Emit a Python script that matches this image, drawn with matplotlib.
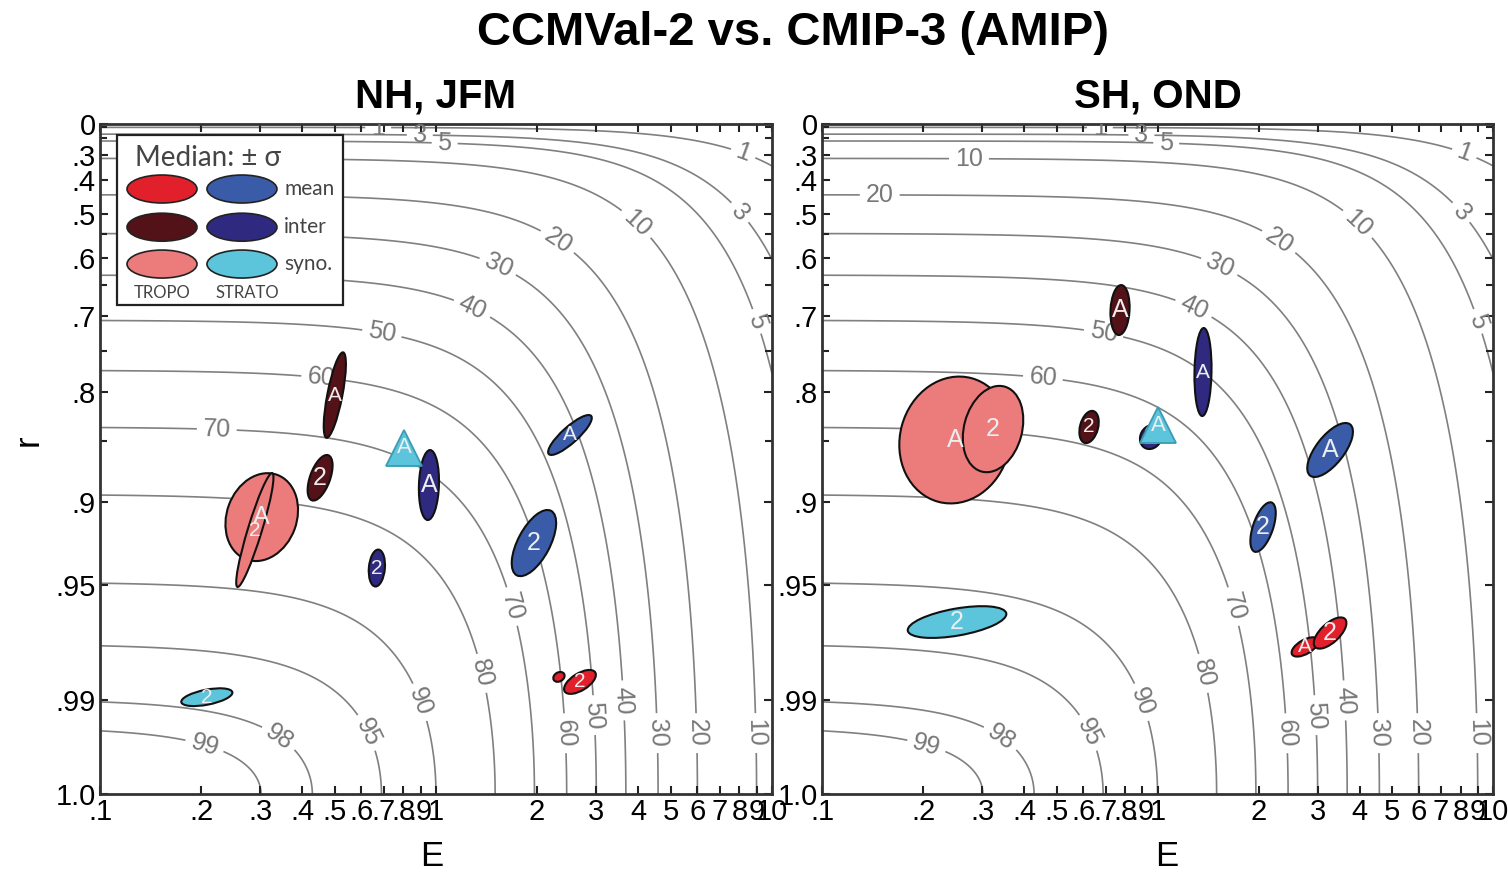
import numpy as np
import matplotlib as mpl
mpl.use('Agg')
import matplotlib.pyplot as plt
from matplotlib.patches import Ellipse, Rectangle
from matplotlib.transforms import ScaledTranslation

plt.rcParams['font.family'] = ['Liberation Sans', 'DejaVu Sans']

# contour levels of the skill score (percent)
levels = [1, 3, 5, 10, 20, 30, 40, 50, 60, 70, 80, 90, 95, 98, 99]

e_ticks = [.1, .2, .3, .4, .5, .6, .7, .8, .9, 1, 2, 3, 4, 5, 6, 7, 8, 9, 10]
e_ticklabels = ['.1', '.2', '.3', '.4', '.5', '.6', '.7', '.8', '.9', '1',
                '2', '3', '4', '5', '6', '7', '8', '9', '10']
r_ticks = [0, .3, .4, .5, .6, .7, .8, .9, .95, .99, 1.0]
r_ticklabels = ['0', '.3', '.4', '.5', '.6', '.7', '.8', '.9', '.95', '.99', '1.0']
r_minor = [.1, .2, .55, .65, .75, .85]

# ellipses (drawing order), NH JFM
nh_kind = ['tropo_syno', 'tropo_syno', 'tropo_inter', 'tropo_inter', 'strat_inter', 'strat_inter',
           'strat_mean', 'strat_mean', 'tropo_mean', 'tropo_mean', 'strat_syno']
nh_label = ['A', '2', 'A', '2', 'A', '2', 'A', '2', '', '2', '2']
nh_E = [0.303, 0.289, 0.50, 0.452, 0.953, 0.667, 2.505, 1.957, 2.323, 2.683, 0.208]
nh_r = [0.9106, 0.9191, 0.8034, 0.8816, 0.8873, 0.9414, 0.8443, 0.9272, 0.9846, 0.9859, 0.9895]
nh_tri_E = [0.803]
nh_tri_r = [0.8563]

# ellipses (drawing order), SH OND
sh_kind = ['tropo_syno', 'tropo_syno', 'tropo_inter', 'tropo_inter', 'strat_inter', 'strat_inter',
           'strat_mean', 'strat_mean', 'tropo_mean', 'tropo_mean', 'strat_syno']
sh_label = ['A', '2', 'A', '2', 'A', '2', 'A', '2', 'A', '2', '2']
sh_E = [0.249, 0.3234, 0.773, 0.625, 1.366, 0.956, 3.268, 2.063, 2.752, 3.268, 0.2526]
sh_r = [0.849, 0.8386, 0.6915, 0.8366, 0.7767, 0.8462, 0.8581, 0.9172, 0.9756, 0.9707, 0.9665]
sh_tri_E = [1.0035]
sh_tri_r = [0.8347]

# ellipse shapes in pixels: major, minor, angle (deg)
nh_w = [90, 119, 87, 48, 70, 37, 57, 73, 12, 36, 52]
nh_h = [70, 14, 15, 20, 20, 16, 16, 32, 9, 17, 15]
nh_ang = [70, 73, 79, 70, 88, 85, 42, 62, 30, 32, 11]
sh_w = [128, 88, 50, 33, 88, 25, 65, 52, 30, 41, 100]
sh_h = [110, 58, 19, 18, 17, 21, 28, 20, 14, 19, 27]
sh_ang = [75, 75, 87, 75, 89, 60, 52, 71, 30, 43, 10]

colors = {'tropo_mean': '#e2202c', 'tropo_inter': '#521217', 'tropo_syno': '#ec7b7b',
          'strat_mean': '#3a5ca8', 'strat_inter': '#2f2a80', 'strat_syno': '#5cc5dc'}

# contour label positions (axes fraction)
label_common = [(0.414, 0.995), (0.960, 0.964), (0.476, 0.985), (0.957, 0.872), (0.513, 0.975),
                (0.982, 0.707), (0.804, 0.857), (0.685, 0.831),
                (0.595, 0.794), (0.558, 0.734), (0.421, 0.696), (0.330, 0.630),
                (0.621, 0.282), (0.576, 0.182), (0.484, 0.140), (0.405, 0.0955), (0.271, 0.091),
                (0.158, 0.0806), (0.698, 0.091), (0.740, 0.118), (0.784, 0.140), (0.833, 0.091),
                (0.893, 0.091), (0.978, 0.091)]
label_nh = label_common + [(0.174, 0.551)]
label_sh = label_common + [(0.219, 0.958), (0.086, 0.901)]


def fwd(r):
    r = np.clip(r, 0, 1)
    return 1 - np.sqrt(1 - r**2)


def inv(t):
    t = np.clip(t, 0, 1)
    return np.sqrt(1 - (1 - t)**2)


def draw_panel(fig, ax, kind, lab, E, r, w, h, ang, triE, trir, lpos, title):
    ax.set_xscale('log')
    ax.set_yscale('function', functions=(fwd, inv))

    ee = np.logspace(-1, 1, 500)
    rr = inv(np.linspace(0, 1, 600))
    EE, RR = np.meshgrid(ee, rr)
    skill = 100 * RR**2 * 9 / (9 + EE**2)
    cs = ax.contour(EE, RR, skill, levels=levels, colors='#808080', linewidths=1.2, zorder=1)

    ax.set_xlim(0.1, 10)
    ax.set_ylim(1.0, 0.0)

    pos = (ax.transAxes + ax.transData.inverted()).transform(lpos)
    ax.clabel(cs, fmt='%d', fontsize=18, colors='#777777', manual=[tuple(p) for p in pos],
              inline=True, inline_spacing=6)

    for k, l, x, y, a, b, t in zip(kind, lab, E, r, w, h, ang):
        trans = fig.dpi_scale_trans + ScaledTranslation(x, y, ax.transData)
        ax.add_patch(Ellipse((0, 0), a / fig.dpi, b / fig.dpi, angle=t, transform=trans,
                             fc=colors[k], ec='#111111', lw=1.5, zorder=3))
        if l:
            fs = 18 if b >= 19 else 15
            ax.text(x, y, l, color='#eeeeee', fontsize=fs, ha='center', va='center', zorder=4)

    ax.plot(triE, trir, ls='none', marker='^', ms=26, mfc=colors['strat_syno'],
            mec='#3a9cb4', mew=1.3, zorder=5)
    for x, y in zip(triE, trir):
        ax.text(x, y, 'A', color='#eeeeee', fontsize=16, ha='center', va='center', zorder=6)

    ax.set_xticks(e_ticks)
    ax.set_xticklabels(e_ticklabels)
    ax.xaxis.set_minor_locator(mpl.ticker.NullLocator())
    ax.set_yticks(r_ticks)
    ax.set_yticklabels(r_ticklabels)
    ax.set_yticks(r_minor, minor=True)
    ax.tick_params(which='both', direction='in', top=True, right=True, width=1.5,
                   color='#222222', labelsize=21, pad=3)
    ax.tick_params(which='major', length=6)
    ax.tick_params(which='minor', length=5)
    for s in ax.spines.values():
        s.set_linewidth(2)
        s.set_color('#333333')
    ax.set_title(title, fontsize=29, fontweight='bold', pad=12)


fig = plt.figure(figsize=(15.08, 8.74), dpi=100)
ax1 = fig.add_axes([0.0663, 0.0915, 0.4456, 0.7666])
ax2 = fig.add_axes([0.5451, 0.0915, 0.4450, 0.7666])

draw_panel(fig, ax1, nh_kind, nh_label, nh_E, nh_r, nh_w, nh_h, nh_ang, nh_tri_E, nh_tri_r,
           label_nh, 'NH, JFM')
draw_panel(fig, ax2, sh_kind, sh_label, sh_E, sh_r, sh_w, sh_h, sh_ang, sh_tri_E, sh_tri_r,
           label_sh, 'SH, OND')

# legend box in the NH panel
ax1.add_patch(Rectangle((0.0253, 0.730), 0.336, 0.254, transform=ax1.transAxes,
                        fc='white', ec='#222222', lw=1.6, zorder=7))
leg_x = [0.0923, 0.2113]
leg_y = [0.903, 0.846, 0.791]
leg_kinds = [['tropo_mean', 'strat_mean'], ['tropo_inter', 'strat_inter'], ['tropo_syno', 'strat_syno']]
for row, y in enumerate(leg_y):
    for col, x in enumerate(leg_x):
        trans = fig.dpi_scale_trans + ScaledTranslation(x, y, ax1.transAxes)
        ax1.add_patch(Ellipse((0, 0), 70 / fig.dpi, 28 / fig.dpi, transform=trans,
                              fc=colors[leg_kinds[row][col]], ec='#222222', lw=1.2, zorder=8))
lfont = ['Lato', 'DejaVu Sans']
ax1.text(0.052, 0.949, 'Median: ± σ', transform=ax1.transAxes, fontsize=20, family=lfont,
         color='#444444', ha='left', va='center', zorder=9)
for y, t in zip(leg_y, ['mean', 'inter', 'syno.']):
    ax1.text(0.274, y, t, transform=ax1.transAxes, fontsize=15, family=lfont,
             color='#444444', ha='left', va='center', zorder=9)
ax1.text(0.0923, 0.748, 'TROPO', transform=ax1.transAxes, fontsize=12, family=lfont,
         color='#444444', ha='center', va='center', zorder=9)
ax1.text(0.219, 0.748, 'STRATO', transform=ax1.transAxes, fontsize=12, family=lfont,
         color='#444444', ha='center', va='center', zorder=9)

fig.text(0.526, 0.962, 'CCMVal-2 vs. CMIP-3 (AMIP)', fontsize=34, fontweight='bold',
         ha='center', va='center')
fig.text(432 / 1508, 1 - 857 / 874, 'E', fontsize=25, ha='center', va='center')
fig.text(1167 / 1508, 1 - 857 / 874, 'E', fontsize=25, ha='center', va='center')
fig.text(28 / 1508, 1 - 440 / 874, 'r', fontsize=25, rotation=90, ha='center', va='center')

fig.savefig('out.png', dpi=100)
